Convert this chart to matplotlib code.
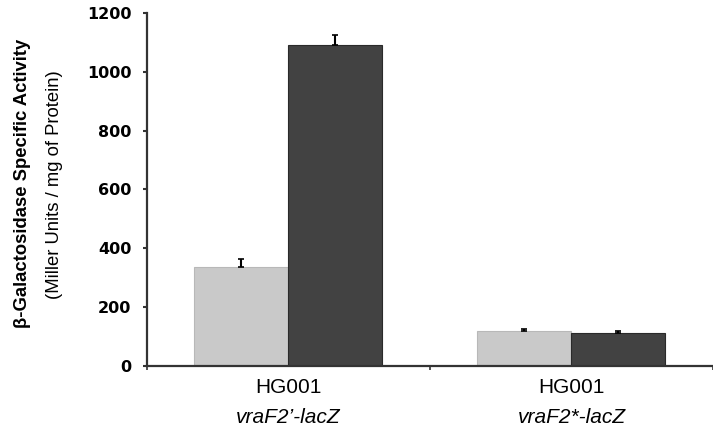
import numpy as np
import matplotlib.pyplot as plt

# data
strain = ['HG001', 'HG001']
construct = ['vraF2’-lacZ', 'vraF2*-lacZ']
light_vals = [336, 119]
light_err = [28, 6]
dark_vals = [1091, 113]
dark_err = [33, 7]
yticks = [0, 200, 400, 600, 800, 1000, 1200]

plt.rcParams['font.family'] = ['Liberation Sans', 'DejaVu Sans']

fig = plt.figure(figsize=(7.13, 4.29), dpi=100)
ax = fig.add_axes([0.206, 0.147, 0.794, 0.823])

x = np.arange(len(strain)) + 0.5
w = 0.332
ekw = dict(ecolor='black', elinewidth=1.5, capsize=2, capthick=1.2)
ax.bar(x - w / 2, light_vals, w, color='#c9c9c9', edgecolor='#b8b8b8', linewidth=0.8,
       yerr=[[0, 0], light_err], error_kw=ekw)
ax.bar(x + w / 2, dark_vals, w, color='#424242', edgecolor='#2a2a2a', linewidth=0.8,
       yerr=[[0, 0], dark_err], error_kw=ekw)

ax.set_xlim(0, 2)
ax.set_ylim(0, 1200)
ax.set_yticks(yticks)
ax.set_yticklabels([str(v) for v in yticks], fontsize=11.5, fontweight='bold',
                   fontfamily='DejaVu Sans')
ax.set_xticks([0, 1, 2])
ax.set_xticklabels([])
ax.tick_params(axis='y', direction='out', length=3, width=1.5, color='#333333', pad=8)
ax.tick_params(axis='x', direction='out', length=3, width=1.2, color='#333333')

for s in ['top', 'right']:
    ax.spines[s].set_visible(False)
for s in ['left', 'bottom']:
    ax.spines[s].set_color('#333333')
    ax.spines[s].set_linewidth(1.6)

tr = ax.get_xaxis_transform()
for xi, s1, s2 in zip(x, strain, construct):
    ax.text(xi, -0.06, s1, transform=tr, ha='center', va='center', fontsize=15)
    ax.text(xi, -0.145, s2, transform=tr, ha='center', va='center', fontsize=15,
            fontstyle='italic')

fig.text(0.031, 0.573, 'β-Galactosidase Specific Activity', rotation=90, ha='center', va='center',
         fontsize=13.3, fontweight='bold')
fig.text(0.077, 0.569, '(Miller Units / mg of Protein)', rotation=90, ha='center', va='center',
         fontsize=13.3)

fig.savefig('out.png', dpi=100)
